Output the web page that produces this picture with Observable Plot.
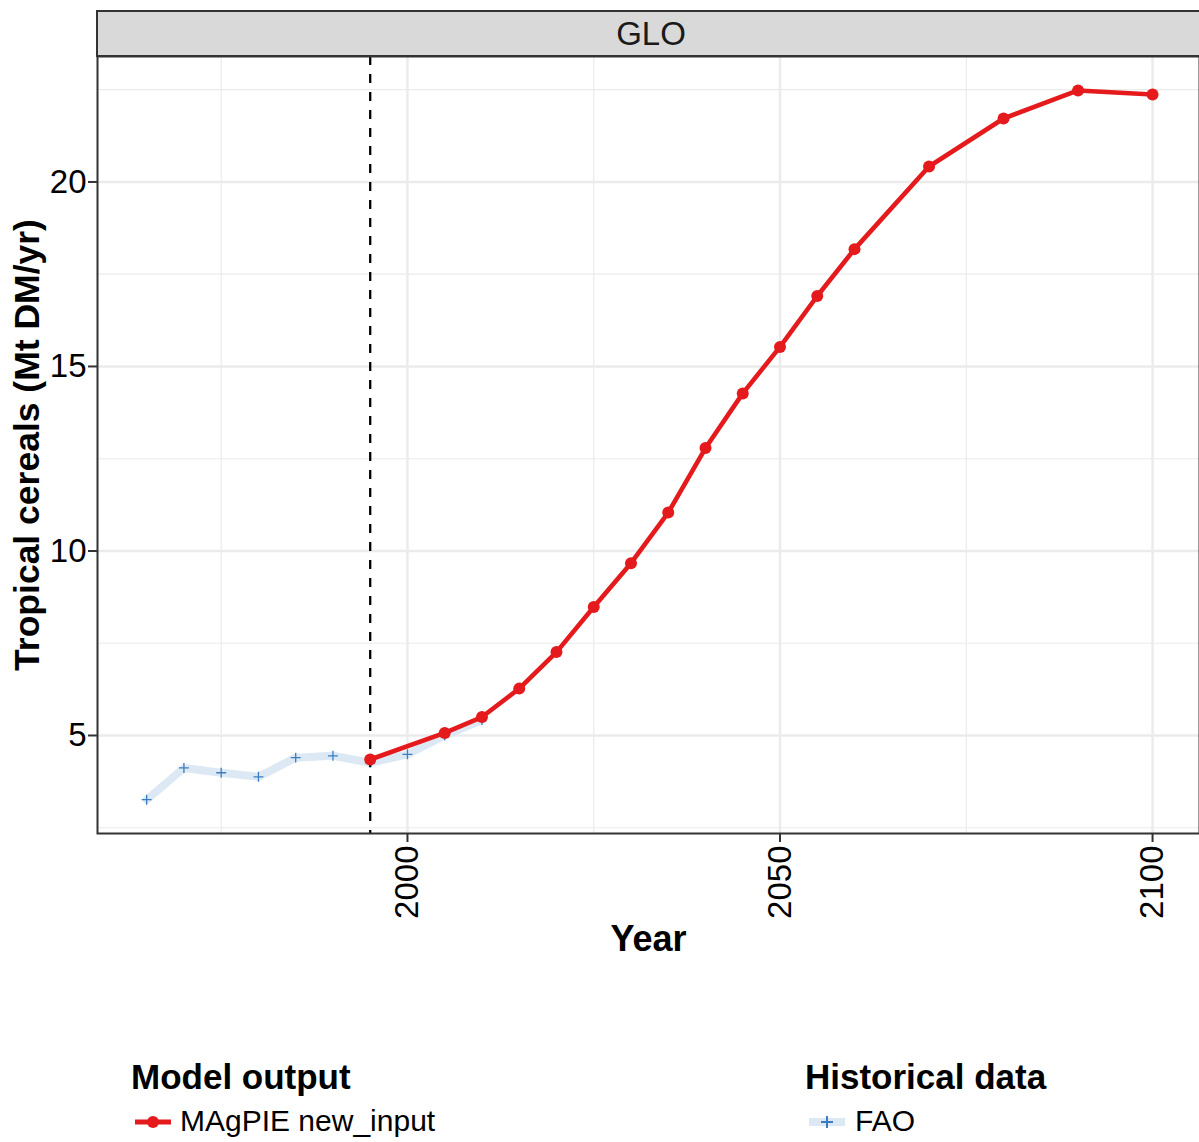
<!DOCTYPE html>
<html>
<head>
<meta charset="utf-8">
<script src="https://cdn.jsdelivr.net/npm/d3@7"></script>
<script src="https://cdn.jsdelivr.net/npm/@observablehq/plot@0.6"></script>
<style>
  body { margin: 0; background: #fff; font-family: "Liberation Sans", Arial, Helvetica, sans-serif; }
  #wrap { position: relative; width: 1199px; height: 1142px; overflow: hidden; background: #fff; }
  #chart { position: absolute; left: 0; top: 0; }
  #strip { position: absolute; left: 96px; top: 10px; width: 1120px; height: 43px; background: #D9D9D9;
           border: 2px solid #333; font-size: 33px; color: #1a1a1a; }
  #strip span { position: absolute; left: 553px; top: 50%; transform: translate(-50%, -50%); }
  .lt { position: absolute; font-weight: bold; font-size: 35px; color: #000; white-space: nowrap; }
  .ll { position: absolute; font-size: 30px; color: #000; white-space: nowrap; }
  .key { position: absolute; }
</style>
</head>
<body>
<div id="wrap">
  <div id="chart"></div>
  <div id="strip"><span>GLO</span></div>
  <div class="lt" style="left:131px; top:1057px;">Model output</div>
  <svg class="key" style="left:130px; top:1106px;" width="46" height="32">
    <line x1="5" x2="41" y1="16" y2="16" stroke="#E41A1C" stroke-width="5"></line>
    <circle cx="23" cy="16" r="6" fill="#E41A1C"></circle>
  </svg>
  <div class="ll" style="left:180px; top:1104px;">MAgPIE new_input</div>
  <div class="lt" style="left:805px; top:1057px;">Historical data</div>
  <svg class="key" style="left:804px; top:1106px;" width="46" height="32">
    <line x1="5" x2="41" y1="16" y2="16" stroke="#DCE9F5" stroke-width="8"></line>
    <path d="M17,16H29M23,10V22" stroke="#3B7DC0" stroke-width="2"></path>
  </svg>
  <div class="ll" style="left:855px; top:1104px;">FAO</div>
</div>
<script>
// ---- data ----
const faoYears = [1965, 1970, 1975, 1980, 1985, 1990, 1995, 2000, 2005, 2010];
const faoValues = [3.26, 4.12, 3.99, 3.88, 4.40, 4.45, 4.26, 4.49, 5.00, 5.42];

const magYears = [1995, 2005, 2010, 2015, 2020, 2025, 2030, 2035, 2040, 2045, 2050, 2055, 2060, 2070, 2080, 2090, 2100];
const magValues = [4.35, 5.07, 5.50, 6.27, 7.26, 8.48, 9.67, 11.04, 12.79, 14.27, 15.53, 16.91, 18.18, 20.42, 21.72, 22.48, 22.37];

const xTicks = [2000, 2050, 2100];
const xMinor = [1975, 2025, 2075];
const yTicks = [5, 10, 15, 20];
const yMinor = [2.5, 7.5, 12.5, 17.5, 22.5];
const startYear = [1995];

const yLabel = "Tropical cereals (Mt DM/yr)";
const xLabel = "Year";

const fao = faoYears.map((year, i) => ({year, value: faoValues[i]}));
const mag = magYears.map((year, i) => ({year, value: magValues[i]}));

const gridColor = "#EBEBEB";
const font = "Liberation Sans, Arial, Helvetica, sans-serif";

const chart = Plot.plot({
  width: 1199,
  height: 960,
  marginLeft: 97,
  marginRight: 0,
  marginTop: 56,
  marginBottom: 127,
  style: {fontFamily: font, background: "transparent", overflow: "visible"},
  x: {domain: [1958.4, 2106.3], axis: null},
  y: {domain: [2.344, 23.40], axis: null},
  marks: [
    Plot.ruleY(yMinor, {stroke: gridColor, strokeWidth: 1.2}),
    Plot.ruleX(xMinor, {stroke: gridColor, strokeWidth: 1.2}),
    Plot.ruleY(yTicks, {stroke: gridColor, strokeWidth: 2.4}),
    Plot.ruleX(xTicks, {stroke: gridColor, strokeWidth: 2.4}),
    Plot.line(fao, {x: "year", y: "value", stroke: "#DCE9F5", strokeWidth: 8}),
    Plot.dot(fao, {x: "year", y: "value", symbol: "plus", r: 3.3, stroke: "#3B7DC0", strokeWidth: 1.3}),
    Plot.ruleX(startYear, {stroke: "#000", strokeWidth: 2.3, strokeDasharray: "9,9"}),
    Plot.line(mag, {x: "year", y: "value", stroke: "#E41A1C", strokeWidth: 4.6}),
    Plot.dot(mag, {x: "year", y: "value", r: 6, fill: "#E41A1C"}),
    Plot.frame({stroke: "#333", strokeWidth: 2}),
    Plot.axisY({ticks: yTicks, tickSize: 9, tickPadding: 2, fontSize: 33, stroke: "#333", fill: "#000",
                strokeWidth: 2, label: null}),
    Plot.axisX({ticks: xTicks, tickFormat: "d", tickSize: 9, tickPadding: 3, fontSize: 33, tickRotate: -90,
                stroke: "#333", fill: "#000", strokeWidth: 2, label: null}),
    Plot.text([yLabel], {frameAnchor: "left", textAnchor: "middle", lineAnchor: "middle", dx: -70, rotate: -90,
                         fontSize: 35.5, fontWeight: "bold", fill: "#000"}),
    Plot.text([xLabel], {frameAnchor: "bottom", textAnchor: "middle", lineAnchor: "middle", dy: 106,
                         fontSize: 36, fontWeight: "bold", fill: "#000"})
  ]
});
document.getElementById("chart").appendChild(chart);
</script>
</body>
</html>
